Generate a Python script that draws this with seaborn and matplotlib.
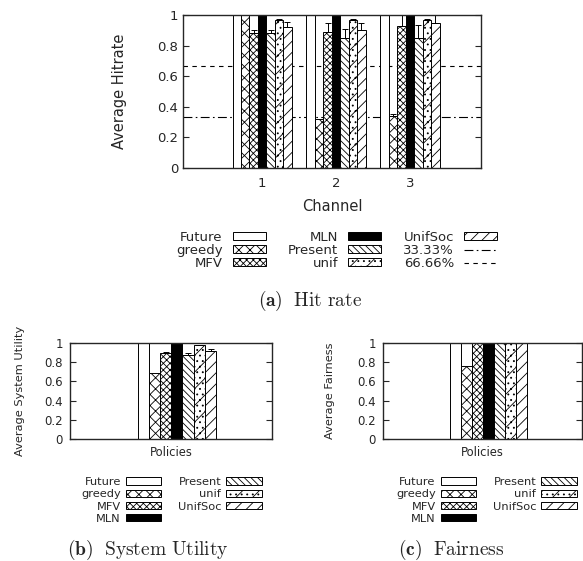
import matplotlib
matplotlib.use("Agg")
import matplotlib.pyplot as plt
import matplotlib.patches as mpatches
from matplotlib.lines import Line2D
import pandas as pd
import seaborn as sns

sns.set_style("ticks")
plt.rcParams["font.family"] = ["DejaVu Sans"]
plt.rcParams["mathtext.fontset"] = "cm"
plt.rcParams["hatch.linewidth"] = 0.6

policies = ["Future", "greedy", "MFV", "MLN", "Present", "unif", "UnifSoc"]
channels = ["1", "2", "3"]
yticks = [0, 0.2, 0.4, 0.6, 0.8, 1.0]
ytick_labels = ["0", "0.2", "0.4", "0.6", "0.8", "1"]

# (a) hit rate, one value per channel
hit = {
    "Future": [1.00, 1.00, 1.00],
    "greedy": [1.00, 0.32, 0.34],
    "MFV": [0.88, 0.89, 0.93],
    "MLN": [1.00, 1.00, 1.00],
    "Present": [0.88, 0.85, 0.85],
    "unif": [0.97, 0.97, 0.97],
    "UnifSoc": [0.92, 0.90, 0.95],
}
hit_err = {
    "Future": [0, 0, 0],
    "greedy": [0, 0, 0.01],
    "MFV": [0.025, 0.055, 0.07],
    "MLN": [0, 0, 0],
    "Present": [0.02, 0.06, 0.085],
    "unif": [0.005, 0.005, 0.005],
    "UnifSoc": [0.035, 0.05, 0.05],
}
thresholds = [1 / 3, 2 / 3]
threshold_labels = ["33.33%", "66.66%"]

# (b) system utility and (c) fairness
utility = [1.00, 0.69, 0.90, 1.00, 0.87, 0.975, 0.92]
utility_err = [0, 0, 0.01, 0, 0.025, 0.005, 0.015]
fairness = [1.00, 0.76, 1.00, 1.00, 1.00, 1.00, 1.00]
fairness_err = [0, 0, 0, 0, 0, 0, 0]

colors = {p: "white" for p in policies}
colors["MLN"] = "black"
hatches = {"Future": "", "greedy": "xxx", "MFV": "xxxxx", "MLN": "",
           "Present": "\\\\\\\\\\", "unif": "...//", "UnifSoc": "///"}


def draw(ax, df, errs, xlim, n):
    sns.barplot(data=df, x="x", y="value", hue="policy", hue_order=policies,
                palette=colors, saturation=1, edgecolor="black", linewidth=0.7,
                errorbar=None, width=0.8, legend=False, ax=ax)
    bars = list(ax.patches)
    for h, pol in enumerate(policies):
        for c in range(n):
            b = bars[h * n + c]
            b.set_hatch(hatches[pol])
            b.set_zorder(2)
            e = errs[pol][c]
            if e > 0:
                ax.errorbar(b.get_x() + b.get_width() / 2, b.get_height(),
                            yerr=[[0], [e]], fmt="none", ecolor="black",
                            elinewidth=0.7, capsize=2, capthick=0.7, zorder=3)
    ax.set_xlim(*xlim)
    ax.set_ylim(0, 1)
    ax.set_yticks(yticks, ytick_labels)
    for s in ax.spines.values():
        s.set_linewidth(1)
        s.set_zorder(4)


def handles():
    return [mpatches.Patch(facecolor=colors[p], edgecolor="black", hatch=hatches[p], lw=0.7)
            for p in policies]


fig = plt.figure(figsize=(5.83, 5.61), dpi=100)
W, H = 583, 561


def box(l, r, t, b):
    return [l / W, 1 - b / H, (r - l) / W, (b - t) / H]


# ---- (a) hit rate
ax = fig.add_axes(box(183, 481, 15, 168))
df_a = pd.DataFrame([(ch, p, hit[p][i]) for p in policies for i, ch in enumerate(channels)],
                    columns=["x", "policy", "value"])
draw(ax, df_a, hit_err, (-1.07, 2.96), len(channels))
ax.axhline(thresholds[0], color="black", lw=0.8, ls=(0, (8, 3, 1.5, 3)), zorder=1)
ax.axhline(thresholds[1], color="black", lw=0.8, ls=(0, (4, 4)), zorder=1)
ax.tick_params(axis="y", direction="in", right=True, length=4, width=0.8, pad=3.5, labelsize=9.5)
ax.tick_params(axis="x", length=0, pad=6.5, labelsize=9.5)
ax.set_ylabel("Average Hitrate", fontsize=10.5)
ax.yaxis.set_label_coords(-0.188, 0.5)
ax.set_xlabel("Channel", fontsize=10.5, va="top")
ax.xaxis.set_label_coords(0.5, -0.2)

h_a = handles() + [Line2D([], [], color="black", lw=0.8, ls=(0, (8, 3, 1.5, 3))),
                   Line2D([], [], color="black", lw=0.8, ls=(0, (4, 4)))]
fig.legend(h_a, policies + threshold_labels, ncol=3, markerfirst=False, frameon=False,
           fontsize=9.5, handlelength=2.5, handleheight=0.55, handletextpad=0.75,
           columnspacing=1.7, labelspacing=0.0, borderpad=0, borderaxespad=0,
           loc="upper left", bbox_to_anchor=(176 / W, 1 - 231 / H))
fig.text(310 / W, 1 - 301 / H, r"$\mathbf{(a)}\ \ \mathrm{Hit\ rate}$",
         ha="center", va="center", fontsize=14)

# ---- (b) system utility, (c) fairness
panels = [
    (box(70, 272, 343, 439), utility, utility_err, "Average System Utility", -0.223, 81, 148,
     r"$\mathbf{(b)}\ \ \mathrm{System\ Utility}$"),
    (box(383, 582, 343, 439), fairness, fairness_err, "Average Fairness", -0.241, 396, 451,
     r"$\mathbf{(c)}\ \ \mathrm{Fairness}$"),
]
for rect, vals, errs, ylab, ylx, leg_x, cap_x, cap in panels:
    ax = fig.add_axes(rect)
    df = pd.DataFrame({"x": ["Policies"] * len(policies), "policy": policies, "value": vals})
    draw(ax, df, {p: [e] for p, e in zip(policies, errs)}, (-1.09, 0.97), 1)
    ax.set_xticks([])
    ax.tick_params(axis="y", direction="in", right=True, length=4, width=0.8, pad=5, labelsize=8.5)
    ax.set_ylabel(ylab, fontsize=8.2)
    ax.yaxis.set_label_coords(ylx, 0.5)
    ax.set_xlabel("Policies", fontsize=8.3, va="top")
    ax.xaxis.set_label_coords(0.5, -0.073)
    fig.legend(handles(), policies, ncol=2, markerfirst=False, frameon=False,
               fontsize=8.2, handlelength=3.1, handleheight=0.6, handletextpad=0.45,
               columnspacing=1.45, labelspacing=0.2, borderpad=0, borderaxespad=0,
               loc="upper left", bbox_to_anchor=(leg_x / W, 1 - 477 / H))
    fig.text(cap_x / W, 1 - 550 / H, cap, ha="center", va="center", fontsize=14)

fig.savefig("out.png", dpi=100)
